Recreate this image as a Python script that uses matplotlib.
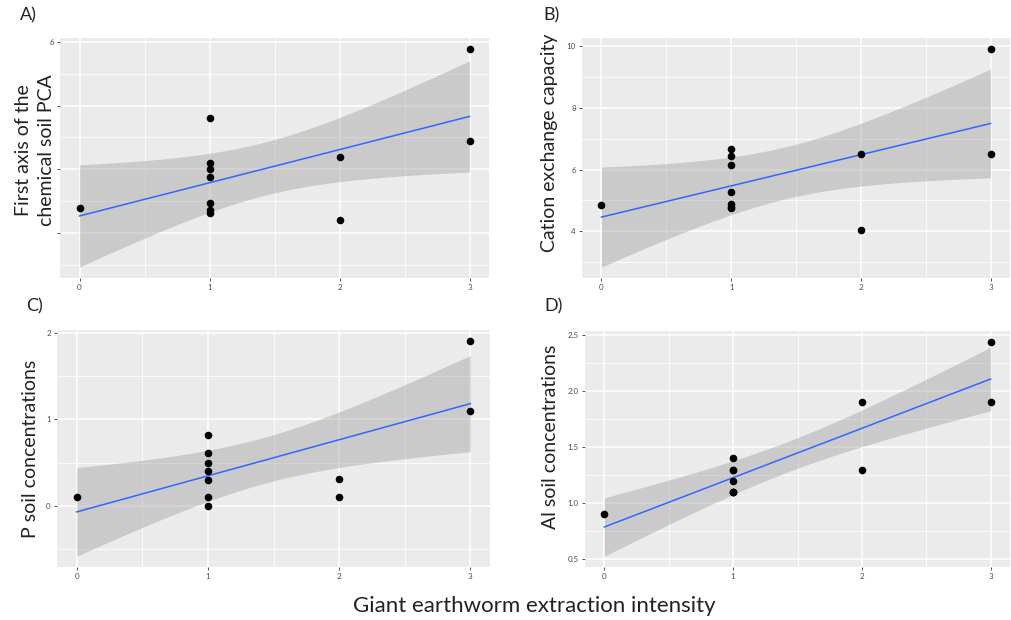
import numpy as np
import matplotlib
matplotlib.use("Agg")
import matplotlib.pyplot as plt
from matplotlib.ticker import FixedLocator

plt.rcParams['font.family'] = ['Lato', 'DejaVu Sans']

# extraction intensity (same for every panel)
x = np.array([0, 1, 1, 1, 1, 1, 1, 1, 2, 2, 3, 3])

pca_axis1 = np.array([0.79, 3.62, 2.19, 2.00, 1.75, 0.95, 0.73, 0.63, 2.38, 0.41, 5.78, 2.89])
cec = np.array([4.85, 6.66, 6.43, 6.13, 5.28, 4.88, 4.80, 4.75, 6.49, 4.03, 9.90, 6.49])
p_soil = np.array([0.10, 0.82, 0.61, 0.50, 0.40, 0.30, 0.10, 0.00, 0.31, 0.10, 1.91, 1.10])
al_soil = np.array([0.90, 1.40, 1.30, 1.30, 1.20, 1.10, 1.10, 1.10, 1.90, 1.30, 2.44, 1.90])

panels = [
    # tag, y values, ylabel, major ticks, tick labels, minor ticks,
    # axes box (px: left, top, right, bottom), ylabel centre (px), tag position (px)
    ("A)", pca_axis1, "First axis of the\nchemical soil PCA", [0, 2, 4, 6], ["", "", "", "6"],
     [-1, 1, 3, 5], (60, 38, 489, 278), (35, 150), (20, 15)),
    ("B)", cec, "Cation exchange capacity", [4, 6, 8, 10], ["4", "6", "8", "10"],
     [3, 5, 7, 9], (582, 38, 1010, 278), (549, 143), (543, 15)),
    ("C)", p_soil, "P soil concentrations", [0, 1, 2], ["0", "1", "2"],
     [-0.5, 0.5, 1.5], (57, 330, 490, 567), (31, 449), (26, 306)),
    ("D)", al_soil, "Al soil concentrations", [0.5, 1.0, 1.5, 2.0, 2.5],
     ["0.5", "1.0", "1.5", "2.0", "2.5"], [0.75, 1.25, 1.75, 2.25], (585, 331, 1010, 567),
     (551, 437), (544, 306)),
]

W, H = 1011, 620
T_CRIT = 2.228  # t(0.975, df=10)

fig = plt.figure(figsize=(W / 100, H / 100), dpi=100)

for tag, y, ylabel, yt, ytl, ymin_t, (l, t, r, b), (lx, ly), (tx, ty) in panels:
    ax = fig.add_axes([l / W, 1 - b / H, (r - l) / W, (b - t) / H])
    ax.set_facecolor("#EBEBEB")
    for s in ax.spines.values():
        s.set_visible(False)

    # linear fit with 95% confidence band (like geom_smooth(method="lm"))
    n = len(x)
    slope, icpt = np.polyfit(x, y, 1)
    resid = y - (icpt + slope * x)
    s_err = np.sqrt(np.sum(resid ** 2) / (n - 2))
    xs = np.linspace(0, 3, 80)
    fit = icpt + slope * xs
    se = s_err * np.sqrt(1 / n + (xs - x.mean()) ** 2 / np.sum((x - x.mean()) ** 2))
    lo, hi = fit - T_CRIT * se, fit + T_CRIT * se

    ymin = min(y.min(), lo.min())
    ymax = max(y.max(), hi.max())
    pad = (ymax - ymin) * 0.05
    ax.set_ylim(ymin - pad, ymax + pad)
    ax.set_xlim(-0.15, 3.15)

    ax.xaxis.set_major_locator(FixedLocator([0, 1, 2, 3]))
    ax.xaxis.set_minor_locator(FixedLocator([0.5, 1.5, 2.5]))
    ax.yaxis.set_major_locator(FixedLocator(yt))
    ax.yaxis.set_minor_locator(FixedLocator(ymin_t))
    ax.set_yticklabels(ytl)
    ax.grid(True, which="major", color="white", lw=1.1)
    ax.grid(True, which="minor", color="white", lw=0.55)
    ax.set_axisbelow(True)
    ax.tick_params(which="major", length=2.5, width=0.6, color="#333333",
                   labelsize=5.8, labelcolor="#4D4D4D", pad=2)
    ax.tick_params(which="minor", length=0)

    ax.fill_between(xs, lo, hi, color="#999999", alpha=0.4, lw=0, zorder=2)
    ax.plot(xs, fit, color="#3366FF", lw=1.1, zorder=3)
    ax.scatter(x, y, s=30, color="black", zorder=4, lw=0)

    fig.text(lx / W, 1 - ly / H, ylabel, rotation=90, fontsize=14, color="#222222",
             ha="center", va="center", linespacing=1.4, multialignment="center")
    fig.text(tx / W, 1 - ty / H, tag, fontsize=13, color="#222222",
             va="center", ha="left")

fig.text(534 / W, 1 - 606 / H, "Giant earthworm extraction intensity", fontsize=16,
         color="#222222", ha="center", va="center")

fig.savefig("out.png", dpi=100, facecolor="white")
